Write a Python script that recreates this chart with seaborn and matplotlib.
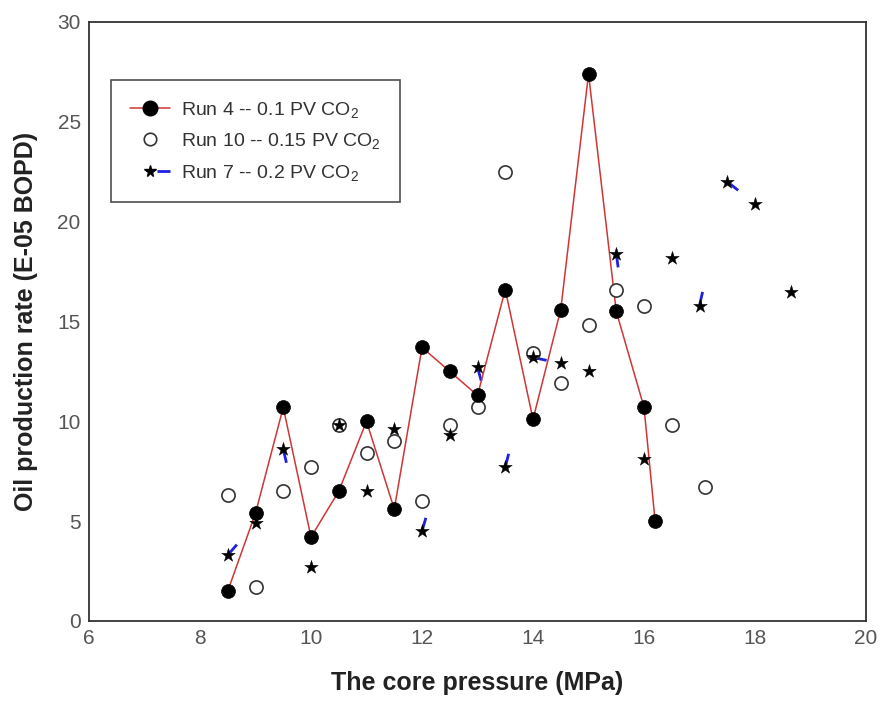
import numpy as np
import pandas as pd
import matplotlib
matplotlib.use("Agg")
import matplotlib.pyplot as plt
from matplotlib.lines import Line2D
from matplotlib.legend_handler import HandlerTuple
from matplotlib.ticker import MultipleLocator
from matplotlib import font_manager
import seaborn as sns

# ---- data ----
run4_x = [8.5, 9, 9.5, 10, 10.5, 11, 11.5, 12, 12.5, 13, 13.5, 14, 14.5, 15, 15.5, 16, 16.2]
run4_y = [1.5, 5.4, 10.7, 4.2, 6.5, 10.0, 5.6, 13.7, 12.5, 11.3, 16.6, 10.1, 15.6, 27.4, 15.5, 10.7, 5.0]

run10_x = [8.5, 9, 9.5, 10, 10.5, 11, 11.5, 12, 12.5, 13, 13.5, 14, 14.5, 15, 15.5, 16, 16.5, 17.1]
run10_y = [6.3, 1.7, 6.5, 7.7, 9.8, 8.4, 9.0, 6.0, 9.8, 10.7, 22.5, 13.4, 11.9, 14.8, 16.6, 15.8, 9.8, 6.7]

run7_x = [8.5, 9, 9.5, 10, 10.5, 11, 11.5, 12, 12.5, 13, 13.5, 14, 14.5, 15, 15.5, 16, 16.5, 17, 17.5, 18, 18.65]
run7_y = [3.3, 4.9, 8.6, 2.7, 9.8, 6.5, 9.6, 4.5, 9.3, 12.7, 7.7, 13.2, 12.9, 12.5, 18.4, 8.1, 18.2, 15.8, 22.0, 20.9, 16.5]
# segments of the Run 7 connecting line where a dash fragment is visible (segment start x)
run7_dash_from = [8.5, 9.5, 12, 13, 13.5, 14, 15.5, 17, 17.5]

labels = ["Run 4 -- 0.1 PV CO$_2$", "Run 10 -- 0.15 PV CO$_2$", "Run 7 -- 0.2 PV CO$_2$"]
x_label = "The core pressure (MPa)"
y_label = "Oil production rate (E-05 BOPD)"

# ---- style ----
sns.set_style("white")
avail = {f.name for f in font_manager.fontManager.ttflist}
main_font = "Liberation Sans" if "Liberation Sans" in avail else "DejaVu Sans"
plt.rcParams["font.family"] = [main_font, "DejaVu Sans"]
plt.rcParams["mathtext.fontset"] = "custom"
plt.rcParams["mathtext.rm"] = main_font
plt.rcParams["mathtext.it"] = main_font

fig = plt.figure(figsize=(8.82, 7.02), dpi=100)
ax = fig.add_axes([0.1009, 0.1154, 0.881, 0.8533])

red = "#d03535"
blue = "#1f1fe0"

df4 = pd.DataFrame({"x": run4_x, "y": run4_y})
df10 = pd.DataFrame({"x": run10_x, "y": run10_y})
df7 = pd.DataFrame({"x": run7_x, "y": run7_y})

# Run 7 dash fragments
for xs in run7_dash_from:
    i = run7_x.index(xs)
    ax.plot([run7_x[i], run7_x[i + 1]], [run7_y[i], run7_y[i + 1]],
            color=blue, lw=2.0, dashes=(5.0, 2000), solid_capstyle="butt",
            dash_capstyle="butt", zorder=2)

sns.lineplot(data=df4, x="x", y="y", sort=False, estimator=None, ax=ax,
             color=red, lw=1.1, zorder=3, legend=False)
sns.scatterplot(data=df10, x="x", y="y", ax=ax, marker="o", s=90,
                facecolor="white", edgecolor="#333333", linewidth=1.2, zorder=4, legend=False)
sns.scatterplot(data=df4, x="x", y="y", ax=ax, marker="o", s=100,
                color="black", edgecolor="black", linewidth=0.5, zorder=5, legend=False)
sns.scatterplot(data=df7, x="x", y="y", ax=ax, marker="*", s=105,
                color="black", edgecolor="black", linewidth=0.3, zorder=6, legend=False)

ax.set_xlim(6, 20)
ax.set_ylim(0, 30)
ax.xaxis.set_major_locator(MultipleLocator(2))
ax.xaxis.set_minor_locator(MultipleLocator(0.5))
ax.yaxis.set_major_locator(MultipleLocator(5))
ax.yaxis.set_minor_locator(MultipleLocator(1))
ax.tick_params(which="both", direction="in", top=False, right=False,
               color="#333333", width=1.0)
ax.tick_params(which="major", length=7, labelsize=15, labelcolor="#555555", pad=6)
ax.tick_params(which="minor", length=4)
for sp in ax.spines.values():
    sp.set_color("#333333")
    sp.set_linewidth(1.3)

ax.set_xlabel(x_label, fontsize=18, fontweight="bold", color="#222222", labelpad=16)
ax.set_ylabel(y_label, fontsize=18, fontweight="bold", color="#222222", labelpad=14)

# legend
h4 = Line2D([], [], color=red, lw=1.1, marker="o", markersize=10.5,
            markerfacecolor="black", markeredgecolor="black")
h10 = Line2D([], [], ls="none", marker="o", markersize=9,
             markerfacecolor="white", markeredgecolor="#333333", markeredgewidth=1.2)
h7a = Line2D([], [], ls="none", marker="*", markersize=8.5, color="black")
h7b = Line2D([], [], color=blue, lw=2.0, dash_capstyle="butt",
             linestyle=(95.0, (4.7, 100)))
leg = ax.legend([h4, h10, (h7b, h7a)], labels, loc="upper left",
                bbox_to_anchor=(0.028, 0.903), borderaxespad=0, frameon=True,
                fancybox=False, fontsize=14, handlelength=2.05, handletextpad=0.55,
                labelspacing=0.6, borderpad=1.0,
                labelcolor="#333333",
                handler_map={tuple: HandlerTuple(ndivide=1)})
leg.get_frame().set_edgecolor("#222222")
leg.get_frame().set_linewidth(1.2)

fig.savefig("out.png", dpi=100)
